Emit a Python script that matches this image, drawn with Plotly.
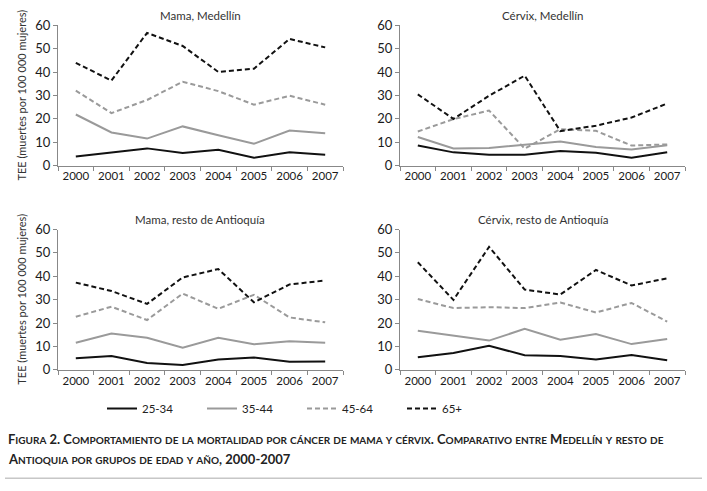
import plotly.graph_objects as go

years = ["2000", "2001", "2002", "2003", "2004", "2005", "2006", "2007"]
groups = ["25-34", "35-44", "45-64", "65+"]

mama_medellin = {
    "25-34": [3.9, 5.8, 7.4, 5.4, 6.8, 3.4, 5.7, 4.7],
    "35-44": [21.9, 14.2, 11.6, 16.8, 13.0, 9.4, 15.0, 13.9],
    "45-64": [32.1, 22.5, 28.1, 35.9, 31.9, 26.1, 29.9, 26.1],
    "65+":   [44.0, 36.4, 56.8, 51.2, 40.1, 41.5, 54.2, 50.6],
}
cervix_medellin = {
    "25-34": [8.6, 5.7, 4.7, 4.7, 6.3, 5.5, 3.4, 5.7],
    "35-44": [12.3, 7.4, 7.6, 9.0, 10.3, 8.0, 6.9, 8.7],
    "45-64": [14.6, 19.9, 23.6, 7.3, 15.6, 14.9, 8.6, 9.1],
    "65+":   [30.5, 20.0, 29.9, 38.5, 14.8, 17.1, 20.6, 26.6],
}
mama_resto = {
    "25-34": [5.0, 5.9, 2.9, 2.1, 4.4, 5.3, 3.5, 3.6],
    "35-44": [11.6, 15.5, 13.7, 9.5, 13.7, 10.9, 12.2, 11.6],
    "45-64": [22.7, 27.0, 21.3, 32.6, 26.1, 32.1, 22.4, 20.3],
    "65+":   [37.3, 33.7, 28.2, 39.5, 43.1, 28.9, 36.5, 38.2],
}
cervix_resto = {
    "25-34": [5.4, 7.2, 10.3, 6.2, 5.9, 4.4, 6.3, 4.1],
    "35-44": [16.7, 14.6, 12.5, 17.5, 12.9, 15.3, 11.0, 13.2],
    "45-64": [30.3, 26.4, 26.8, 26.4, 28.8, 24.5, 28.6, 20.6],
    "65+":   [46.0, 29.9, 52.6, 34.3, 32.2, 42.7, 36.1, 39.1],
}

panels = [
    ("Mama, Medellín", mama_medellin),
    ("Cérvix, Medellín", cervix_medellin),
    ("Mama, resto de Antioquía", mama_resto),
    ("Cérvix, resto de Antioquía", cervix_resto),
]
y_title = "TEE (muertes por 100 000 mujeres)"
caption1 = "Figura 2. Comportamiento de la mortalidad por cáncer de mama y cérvix. Comparativo entre Medellín y resto de"
caption2 = "Antioquia por grupos de edad y año, 2000-2007"

W, H = 707, 491
FONT = "Lato"
styles = {
    "25-34": dict(color="#111111", dash="solid"),
    "35-44": dict(color="#9a9a9a", dash="solid"),
    "45-64": dict(color="#9a9a9a", dash="5px,3px"),
    "65+":   dict(color="#111111", dash="5px,3px"),
}

def px_x(p):
    return p / W

def px_y(p):
    return 1 - p / H

xdoms = [(px_x(58), px_x(343)), (px_x(400), px_x(685))]
ydoms = [(px_y(163), px_y(18)), (px_y(374), px_y(229))]

fig = go.Figure()
annotations = []
for i, (title, data) in enumerate(panels):
    r, c = divmod(i, 2)
    idx = "" if i == 0 else str(i + 1)
    xa, ya = "x" + idx, "y" + idx
    for g in groups:
        st = styles[g]
        fig.add_trace(go.Scatter(
            x=years, y=data[g], mode="lines", name=g,
            line=dict(color=st["color"], dash=st["dash"], width=2),
            xaxis=xa, yaxis=ya, showlegend=(i == 0),
        ))
    axis_common = dict(showgrid=False, zeroline=False, showline=True,
                       linecolor="#888888", linewidth=1, ticks="outside",
                       tickcolor="#888888", ticklen=4)
    fig.layout["xaxis" + idx] = dict(axis_common, domain=list(xdoms[c]),
                                     anchor=ya, type="category", tickangle=0,
                                     tickson="boundaries", range=[-0.5, 7.5],
                                     tickfont=dict(family=FONT, size=11.5, color="#1a1a1a"))
    fig.layout["yaxis" + idx] = dict(axis_common, domain=list(ydoms[r]),
                                     anchor=xa, range=[0, 60], dtick=10,
                                     tickfont=dict(family=FONT, size=13, color="#1a1a1a"))
    annotations.append(dict(text=title, xref="paper", yref="paper",
                            x=(xdoms[c][0] + xdoms[c][1]) / 2,
                            y=ydoms[r][1] + 10 / H,
                            xanchor="center", yanchor="middle", showarrow=False,
                            font=dict(family=FONT, size=11.5, color="#333333")))
    if c == 0:
        annotations.append(dict(text=y_title, xref="paper", yref="paper",
                                x=px_x(22), y=(ydoms[r][0] + ydoms[r][1]) / 2,
                                textangle=-90, xanchor="center", yanchor="middle",
                                showarrow=False,
                                font=dict(family=FONT, size=11, color="#333333")))

def smallcaps(s, small=10):
    out, run = [], ""
    for ch in s:
        if ch.islower():
            run += ch.upper()
        else:
            if run:
                out.append(f'<span style="font-size:{small}px">{run}</span>')
                run = ""
            out.append(ch)
    if run:
        out.append(f'<span style="font-size:{small}px">{run}</span>')
    return "<b>" + "".join(out) + "</b>"

for txt, ypx in [(caption1, 446), (caption2, 466)]:
    annotations.append(dict(text=smallcaps(txt), xref="paper", yref="paper",
                            x=px_x(6), y=px_y(ypx), xanchor="left", yanchor="middle",
                            showarrow=False,
                            font=dict(family=FONT, size=13, color="#222222")))

fig.update_layout(
    width=W, height=H, margin=dict(l=0, r=0, t=0, b=0),
    paper_bgcolor="white", plot_bgcolor="white",
    annotations=annotations,
    shapes=[dict(type="line", xref="paper", yref="paper",
                 x0=px_x(5), x1=px_x(702), y0=px_y(486), y1=px_y(486),
                 line=dict(color="#aaaaaa", width=1))],
    legend=dict(orientation="h", x=px_x(102), y=px_y(414), xanchor="left",
                yanchor="middle", entrywidth=55, entrywidthmode="pixels",
                font=dict(family=FONT, size=11.5, color="#222222"),
                bgcolor="rgba(0,0,0,0)"),
    font=dict(family=FONT),
)

fig.write_html("out.html", config={"displayModeBar": False},
               post_script="document.body.style.margin='0';document.body.style.overflow='hidden';")
